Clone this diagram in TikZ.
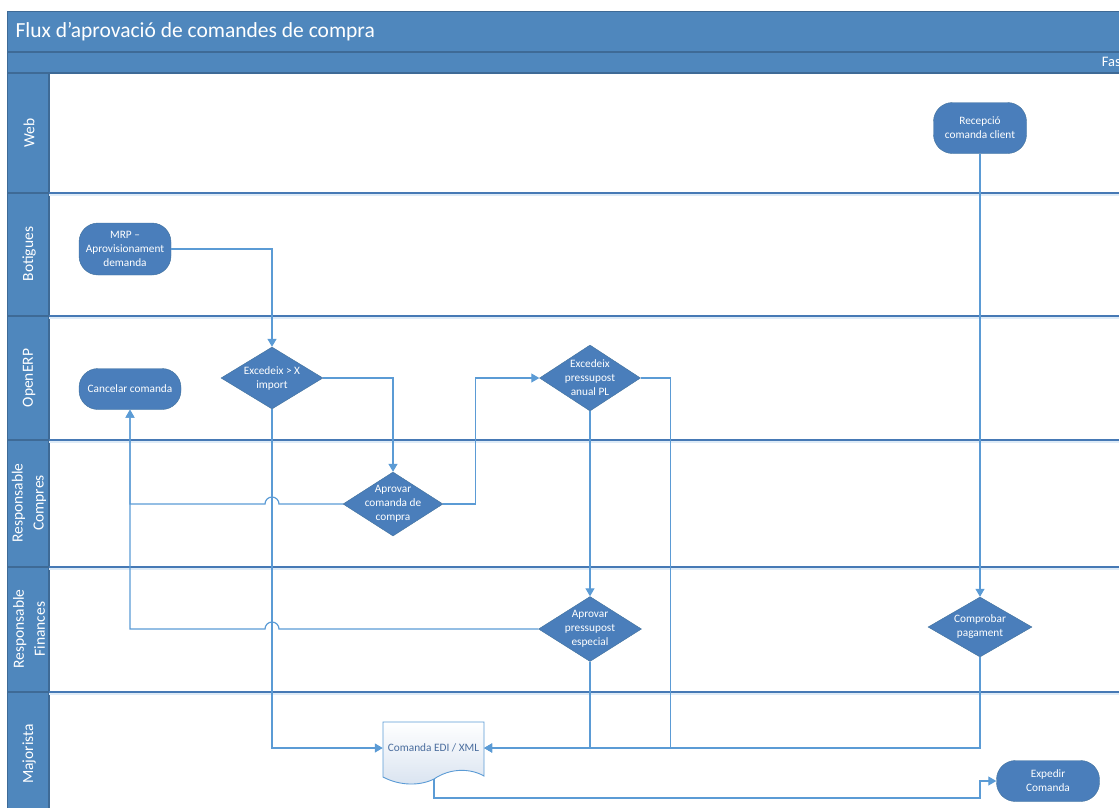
\documentclass[tikz,border=0pt]{standalone}
\usepackage{fontspec}
\setmainfont{Carlito}
\usetikzlibrary{shapes.geometric, arrows.meta}

\definecolor{headblue}{HTML}{4F87BD}
\definecolor{headline}{HTML}{3E6A96}
\definecolor{shapeblue}{HTML}{4A7EBB}
\definecolor{shapeline}{HTML}{41719C}
\definecolor{flowblue}{HTML}{5B9BD5}
\definecolor{laneline}{HTML}{4679B5}
\definecolor{doctext}{HTML}{4A6D9E}
\definecolor{docfill}{HTML}{D9E3F0}

\newcommand{\nodefont}{\fontsize{11.3}{14}\selectfont}

\begin{document}
\begin{tikzpicture}[
        x                = 1pt,
        y                = -1pt,
        lanelabel/.style = {rotate=90, text=white, align=center, font=\fontsize{15.5}{21}\selectfont},
        terminal/.style  = {rectangle, rounded corners=19pt, draw=shapeline, fill=shapeblue, text=white, align=center, font=\nodefont, inner sep=0pt},
        decision/.style  = {diamond, draw=shapeline, fill=shapeblue, inner sep=0pt, minimum width=102pt, minimum height=62pt},
        dtext/.style     = {text=white, align=center, font=\nodefont},
        flow/.style      = {draw=flowblue, line width=1.2pt, -{Triangle[length=8pt, width=9pt]}},
        % sloped
      ]
    \useasboundingbox (0,0) rectangle (1119,807);

    % pool frame
    \fill[headblue] (7,11) rectangle (1125,73);
    \fill[headblue] (7,73) rectangle (49,815);
    \draw[headline, line width=1.2pt] (7,52) -- (1125,52) (7,73) -- (1125,73) (49,73) -- (49,815);
    \draw[headline] (1125,11) -- (7,11) -- (7,815);
    \node[anchor=west, text=white, font=\fontsize{21.5}{24}\selectfont] (title) at (12,32) {Flux d’aprovació de comandes de compra};
    \node[anchor=east, inner sep=0pt, text=white, font=\fontsize{14.5}{16}\selectfont] (fase) at (1121,62) {Fas};

    % lanes
    \foreach \y in {193,316,440,567,692} {
        \draw[flowblue!20, line width=2pt] (49,\y+2) -- (1125,\y+2);
        \draw[laneline, line width=1.4pt] (49,\y) -- (1125,\y);
        \draw[headline, line width=1.2pt] (7,\y) -- (49,\y);
    }
    \foreach \y/\name/\txt in {133/web/Web, 254/bot/Botigues, 378/erp/OpenERP,
            503/comp/{Responsable\\Compres}, 629/fin/{Responsable\\Finances}, 754/maj/Majorista}
        \node[lanelabel] (lane-\name) at (29,\y) {\txt};

    % document shape
    \shade[draw=flowblue, line width=0.9pt, top color=white, bottom color=docfill]
        (383,722) -- (383,777) .. controls (400,786) and (420,786) .. (434,779) coordinate (edifoot)
        .. controls (450,768) and (470,768) .. (484,776) -- (484,722) -- cycle;

    % steps
    \node[terminal, minimum width=93pt, minimum height=51pt] (recep) at (980,128) {Recepció\\comanda client};
    \node[terminal, minimum width=92pt, minimum height=52pt] (mrp) at (125,249) {MRP –\\Aprovisionament\\demanda};
    \node[terminal, minimum width=102pt, minimum height=41pt] (cancel) at (130,389) {Cancelar comanda};
    \node[decision, label={[dtext]center:{Excedeix > X\\import}}] (excx) at (272,378) {};
    \node[decision, minimum width=100pt, minimum height=64pt, label={[dtext]center:{Aprovar\\comanda de\\compra}}] (aprcomp) at (393,504) {};
    \node[decision, minimum width=101pt, minimum height=66pt, label={[dtext]center:{Excedeix\\pressupost\\anual PL}}] (excpl) at (590,378) {};
    \node[decision, minimum width=103pt, minimum height=65pt, label={[dtext]center:{Aprovar\\pressupost\\especial}}] (aprpress) at (590,629) {};
    \node[decision, minimum width=104pt, minimum height=60pt, label={[dtext]center:{Comprobar\\pagament}}] (compr) at (980,627) {};
    \node[terminal, minimum width=103pt, minimum height=41pt] (exped) at (1048,781) {Expedir\\Comanda};
    \node[minimum width=101pt, minimum height=56pt, inner sep=0pt, text=doctext, font=\nodefont] (edi) at (433.5,748) {Comanda EDI / XML};

    % flows
    \draw[flow] (mrp.east) -| (excx.north);
    \draw[flow] (excx.east) -| (aprcomp.north);
    \draw[flow] (excx.south) |- (edi.west);
    \draw[flow] (aprcomp.east) -- ++(32,0) |- (excpl.west);
    \draw[flow] (aprcomp.west) -- (279,504) arc[start angle=0, end angle=180, radius=7pt] -| (cancel.south);
    \draw[flow] (aprpress.west) -- (279,629) arc[start angle=0, end angle=180, radius=7pt] -| (cancel.south);
    \draw[flow] (excpl.south) -- (aprpress.north);
    \draw[flow] (excpl.east) -- ++(30,0) |- (edi.east);
    \draw[flow] (aprpress.south) |- (edi.east);
    \draw[flow] (recep.south) -- (compr.north);
    \draw[flow] (compr.south) |- (edi.east);
    \draw[flow] (edifoot) |- (980,798) |- (exped.west);
\end{tikzpicture}
\end{document}
